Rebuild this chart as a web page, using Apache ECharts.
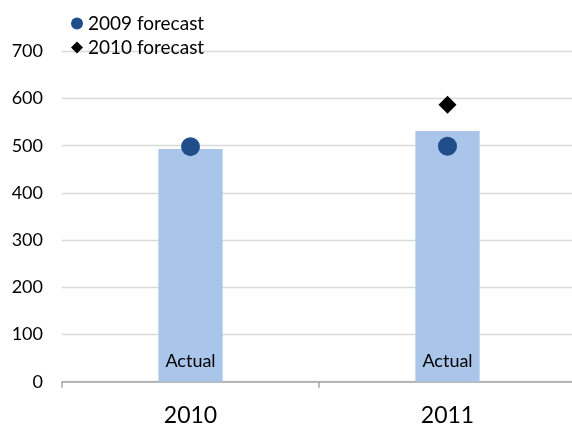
<!DOCTYPE html>
<html>
<head>
<meta charset="utf-8">
<script src="https://cdn.jsdelivr.net/npm/echarts@6/dist/echarts.min.js"></script>
<style>
  html, body { margin: 0; padding: 0; background: #fff; }
  #chart { width: 572px; height: 430px; }
</style>
</head>
<body>
<div id="chart"></div>
<script>
// Years on the horizontal axis
const years = ['2010', '2011'];
// Actual values (bars)
const actual = [493, 531];
// Forecast made in 2009 (circles)
const forecast2009 = [498, 499];
// Forecast made in 2010 (diamond, only for 2011)
const forecast2010 = [null, 587];
// Value axis range
const yMin = 0, yMax = 700, yStep = 100;

const FONT = 'Lato, "Open Sans", sans-serif';

const chart = echarts.init(document.getElementById('chart'), null, { renderer: 'canvas' });
chart.setOption({
  animation: false,
  backgroundColor: '#ffffff',
  textStyle: { fontFamily: FONT, color: '#000' },
  // plot area runs slightly past the right edge of the canvas
  grid: {
    left: 62, width: 514, top: 51.3, height: 330.4,
    containLabel: false,
    outerBoundsMode: 'none'
  },
  legend: {
    orient: 'vertical',
    left: 66,
    top: 9,
    itemWidth: 12,
    itemHeight: 12,
    itemGap: 5,
    textStyle: { fontFamily: FONT, fontSize: 19, color: '#000' },
    data: [
      { name: '2009 forecast', icon: 'circle' },
      { name: '2010 forecast', icon: 'diamond' }
    ]
  },
  xAxis: {
    type: 'category',
    data: years,
    axisLine: { lineStyle: { color: '#a6a6a6', width: 1.5 } },
    axisTick: { show: true, length: 6, lineStyle: { color: '#a6a6a6', width: 1.5 } },
    axisLabel: { fontFamily: FONT, fontSize: 23, color: '#000', margin: 22 }
  },
  yAxis: {
    type: 'value',
    min: yMin,
    max: yMax,
    interval: yStep,
    axisLine: { show: false },
    axisTick: { show: false },
    splitLine: { lineStyle: { color: '#d9d9d9', width: 1.3 } },
    axisLabel: { fontFamily: FONT, fontSize: 18, color: '#000', margin: 19 }
  },
  series: [
    {
      name: 'Actual',
      type: 'bar',
      data: actual,
      barWidth: '25%',
      itemStyle: { color: '#a9c5ea' },
      label: {
        show: true,
        position: 'insideBottom',
        distance: 12,
        formatter: 'Actual',
        fontFamily: FONT,
        fontSize: 18,
        color: '#000'
      },
      z: 1
    },
    {
      name: '2009 forecast',
      type: 'scatter',
      data: forecast2009,
      symbol: 'circle',
      symbolSize: 19,
      itemStyle: { color: '#1f4e8a', opacity: 1 },
      z: 3
    },
    {
      name: '2010 forecast',
      type: 'scatter',
      data: forecast2010,
      symbol: 'diamond',
      symbolSize: 18,
      itemStyle: { color: '#000000', opacity: 1 },
      z: 3
    }
  ]
});
</script>
</body>
</html>
